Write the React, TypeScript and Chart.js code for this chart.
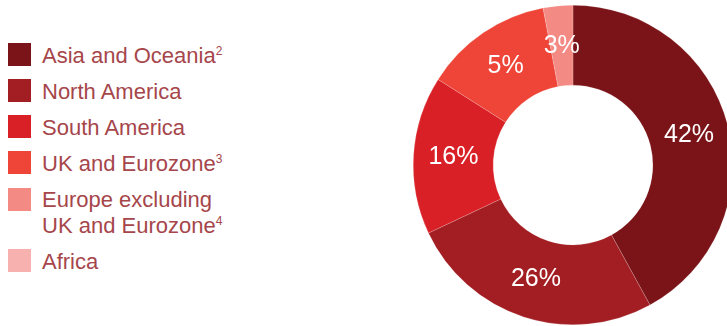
import React, { useEffect, useRef } from "react";
import { Chart, registerables } from "chart.js";

Chart.register(...registerables);

const regions = ["Asia and Oceania", "North America", "South America", "UK and Eurozone", "Europe excluding\nUK and Eurozone", "Africa"];
const footnotes = ["2", "", "", "3", "4", ""];
const shares = [42, 26, 16, 13, 3, 0];
const shareLabels = ["42%", "26%", "16%", "5%", "3%", ""];
const colors = ["#7B1418", "#A31E23", "#D92027", "#EE4538", "#F48A84", "#F7B1AE"];

const TEXT_COLOR = "#A6464B";
const FONT = "'Liberation Sans', Arial, Helvetica, sans-serif";

const labelPlugin = {
  id: "sliceLabels",
  afterDatasetsDraw(chart: any) {
    const ctx = chart.ctx;
    const meta = chart.getDatasetMeta(0);
    ctx.save();
    ctx.fillStyle = "#FFFFFF";
    ctx.font = `25px ${FONT}`;
    ctx.textAlign = "center";
    ctx.textBaseline = "middle";
    meta.data.forEach((arc: any, i: number) => {
      const txt = shareLabels[i];
      if (!txt) return;
      const p = arc.tooltipPosition();
      ctx.fillText(txt, p.x, p.y);
    });
    ctx.restore();
  },
};

export default function App() {
  const canvasRef = useRef<HTMLCanvasElement | null>(null);

  useEffect(() => {
    if (!canvasRef.current) return;
    const chart = new Chart(canvasRef.current, {
      type: "doughnut",
      data: {
        labels: regions,
        datasets: [
          {
            data: shares,
            backgroundColor: colors,
            borderColor: "rgba(255,255,255,0.35)",
            borderWidth: 0.5,
          },
        ],
      },
      options: {
        responsive: false,
        animation: false,
        cutout: "50%",
        layout: { padding: 5 },
        plugins: {
          legend: { display: false },
          tooltip: { enabled: false },
        },
      },
      plugins: [labelPlugin],
    });
    return () => chart.destroy();
  }, []);

  return (
    <div
      style={{
        position: "fixed",
        left: 0,
        top: 0,
        width: 727,
        height: 326,
        overflow: "hidden",
        background: "#FFFFFF",
      }}
    >
      <div style={{ position: "absolute", left: 8, top: 43, fontFamily: FONT, color: TEXT_COLOR, fontSize: 22 }}>
        {regions.map((r, i) => (
          <div key={i} style={{ display: "flex", alignItems: "flex-start", marginBottom: 10, lineHeight: "26px" }}>
            <div style={{ width: 23, height: 23, background: colors[i], flex: "0 0 auto", marginTop: r.includes("\n") ? 1 : 0 }} />
            <div style={{ marginLeft: 11, whiteSpace: "pre" }}>
              {r}
              {footnotes[i] ? (
                <span style={{ fontSize: 12, verticalAlign: 8, lineHeight: 0 }}>{footnotes[i]}</span>
              ) : null}
            </div>
          </div>
        ))}
      </div>
      <canvas
        ref={canvasRef}
        width={330}
        height={330}
        style={{ position: "absolute", left: 408, top: 0, width: 330, height: 330 }}
      />
    </div>
  );
}
